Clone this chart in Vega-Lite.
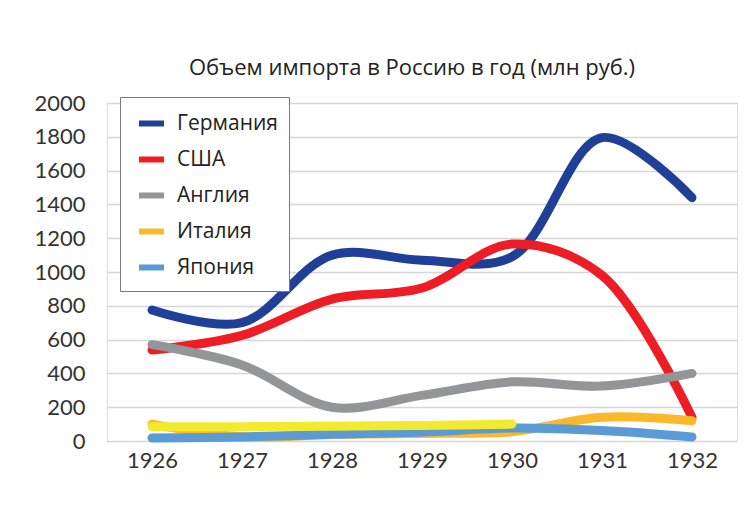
{
  "$schema": "https://vega.github.io/schema/vega-lite/v6.json",
  "width": 630,
  "height": 338,
  "autosize": "none",
  "padding": {"left": 107, "top": 103, "right": 19, "bottom": 79},
  "background": "white",
  "title": {
    "text": "Объем импорта в Россию в год (млн руб.)",
    "font": "Open Sans",
    "fontSize": 22,
    "fontWeight": "normal",
    "color": "#222222",
    "offset": 12,
    "dx": -10
  },
  "datasets": {
    "main": [
      {"year": "1926", "country": "Германия", "value": 775},
      {"year": "1927", "country": "Германия", "value": 700},
      {"year": "1928", "country": "Германия", "value": 1100},
      {"year": "1929", "country": "Германия", "value": 1070},
      {"year": "1930", "country": "Германия", "value": 1090},
      {"year": "1931", "country": "Германия", "value": 1795},
      {"year": "1932", "country": "Германия", "value": 1440},
      {"year": "1926", "country": "США", "value": 538},
      {"year": "1927", "country": "США", "value": 625},
      {"year": "1928", "country": "США", "value": 840},
      {"year": "1929", "country": "США", "value": 905},
      {"year": "1930", "country": "США", "value": 1165},
      {"year": "1931", "country": "США", "value": 980},
      {"year": "1932", "country": "США", "value": 140},
      {"year": "1926", "country": "Англия", "value": 570},
      {"year": "1927", "country": "Англия", "value": 450},
      {"year": "1928", "country": "Англия", "value": 200},
      {"year": "1929", "country": "Англия", "value": 270},
      {"year": "1930", "country": "Англия", "value": 350},
      {"year": "1931", "country": "Англия", "value": 325},
      {"year": "1932", "country": "Англия", "value": 400},
      {"year": "1926", "country": "Италия", "value": 100},
      {"year": "1927", "country": "Италия", "value": 25},
      {"year": "1928", "country": "Италия", "value": 38},
      {"year": "1929", "country": "Италия", "value": 45},
      {"year": "1930", "country": "Италия", "value": 55},
      {"year": "1931", "country": "Италия", "value": 140},
      {"year": "1932", "country": "Италия", "value": 120},
      {"year": "1926", "country": "Япония", "value": 18},
      {"year": "1927", "country": "Япония", "value": 24},
      {"year": "1928", "country": "Япония", "value": 40},
      {"year": "1929", "country": "Япония", "value": 53},
      {"year": "1930", "country": "Япония", "value": 77},
      {"year": "1931", "country": "Япония", "value": 62},
      {"year": "1932", "country": "Япония", "value": 24}
    ],
    "extra": [
      {"year": "1926", "value": 85},
      {"year": "1927", "value": 85},
      {"year": "1928", "value": 88},
      {"year": "1929", "value": 92},
      {"year": "1930", "value": 100}
    ]
  },
  "encoding": {
    "x": {
      "field": "year",
      "type": "ordinal",
      "scale": {"type": "point", "padding": 0.5, "domain": ["1926", "1927", "1928", "1929", "1930", "1931", "1932"]},
      "axis": {
        "title": null,
        "labelAngle": 0,
        "labelFont": "Lato",
        "labelFontSize": 22,
        "labelColor": "#333333",
        "labelPadding": 9,
        "ticks": false,
        "domain": false,
        "grid": false
      }
    },
    "y": {
      "field": "value",
      "type": "quantitative",
      "scale": {"domain": [0, 2000], "nice": false},
      "axis": {
        "title": null,
        "format": "d",
        "values": [0, 200, 400, 600, 800, 1000, 1200, 1400, 1600, 1800, 2000],
        "labelFont": "Lato",
        "labelFontSize": 22,
        "labelColor": "#333333",
        "labelPadding": 22,
        "ticks": false,
        "domain": false,
        "grid": true,
        "gridColor": "#d6d6d6",
        "gridWidth": 1.5
      }
    }
  },
  "layer": [
    {
      "data": {"name": "main"},
      "mark": {"type": "line", "interpolate": "catmull-rom", "strokeWidth": 9, "strokeCap": "round", "strokeJoin": "round"},
      "encoding": {
        "color": {
          "field": "country",
          "type": "nominal",
          "sort": ["Германия", "США", "Англия", "Италия", "Япония"],
          "scale": {
            "domain": ["Германия", "США", "Англия", "Италия", "Япония"],
            "range": ["#1f3f99", "#ee1c25", "#939598", "#fbb829", "#5b9bd5"]
          },
          "legend": {
            "title": null,
            "orient": "none",
            "legendX": 13,
            "legendY": -6,
            "padding": 11,
            "symbolOffset": 5,
            "strokeColor": "#7a7a7a",
            "fillColor": "white",
            "symbolType": "stroke",
            "symbolSize": 625,
            "symbolStrokeWidth": 6,
            "labelFont": "Open Sans",
            "labelFontSize": 21,
            "labelColor": "#222222",
            "labelOffset": 10,
            "rowPadding": 8,
            "labelLimit": 300
          }
        },
        "order": {"value": 0},
        "detail": {"field": "country"}
      }
    },
    {
      "data": {"name": "extra"},
      "mark": {"type": "line", "interpolate": "catmull-rom", "strokeWidth": 9, "strokeCap": "round", "color": "#f2ea2e"},
      "encoding": {}
    }
  ]
}
